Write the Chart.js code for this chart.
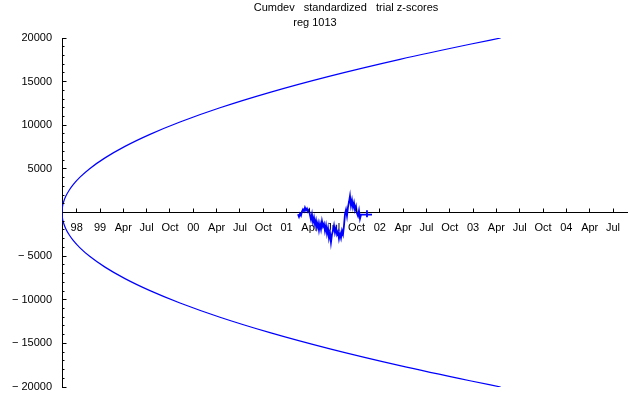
<!DOCTYPE html>
<html>
<head>
<meta charset="utf-8">
<script src="https://cdn.jsdelivr.net/npm/chart.js@4/dist/chart.umd.min.js"></script>
<style>
  body { margin: 0; background: #fff; }
</style>
</head>
<body>
<canvas id="myChart" width="640" height="395"></canvas>
<script>
// x is measured in quarters, 0 = the "98" tick
var xTickPos = [0,1,2,3,4,5,6,7,8,9,10,11,12,13,14,15,16,17,18,19,20,21,22,23]
var xTickLabels = ['98','99','Apr','Jul','Oct','00','Apr','Jul','Oct','01','Apr','Jul','Oct','02','Apr','Jul','Oct','03','Apr','Jul','Oct','04','Apr','Jul']
var yTickValues = [-20000,-15000,-10000,-5000,0,5000,10000,15000,20000]
var yTickLabels = ['\u2212 20000','\u2212 15000','\u2212 10000','\u2212 5000','','5000','10000','15000','20000']

// envelope
var envX = [-0.63,-0.609,-0.587,-0.545,-0.459,-0.33,-0.159,0.142,0.57,1.214,2.071,3.143,4.43,6.145,8.289,10.862,13.864,16.865,18.182]
var envUpper = [0,675,955,1350,1910,2526,3167,4051,5053,6261,7579,8957,10373,12003,13771,15632,17555,19287,20000]
var envLower = [0,-675,-955,-1350,-1910,-2526,-3167,-4051,-5053,-6261,-7579,-8957,-10373,-12003,-13771,-15632,-17555,-19287,-20000]

// cumdev trace
var traceX = [9.490,9.533,9.576,9.619,9.661,9.704,9.747,9.790,9.833,9.876,9.919,9.962,
  10.005,10.047,10.090,10.133,10.176,10.219,10.262,10.305,10.348,10.391,10.433,10.476,10.519,10.562,
  10.605,10.648,10.691,10.734,10.777,10.819,10.862,10.905,10.948,10.991,11.034,11.077,11.120,11.163,
  11.205,11.248,11.291,11.334,11.377,11.420,11.463,11.506,11.549,11.591,11.634,11.677,11.720,11.763,
  11.806,11.849,11.892,11.935,11.978,12.020,12.063,12.106,12.149,12.192,12.449,12.449,12.449,12.449,12.663]
var traceY = [-200,-500,-150,-350,100,350,150,550,250,450,100,300,
  -300,-800,-200,-1100,-600,-1400,-900,-1700,-1200,-2000,-1300,-1900,-1000,-1600,
  -1300,-2100,-1500,-2400,-1800,-2900,-2300,-3400,-2500,-2100,-1500,-2300,-1800,-2500,
  -2200,-3000,-2400,-2900,-2100,-2500,-1500,-200,300,-400,600,1200,1900,800,
  1400,600,1100,300,700,-100,-400,200,-700,-250,-250,250,-550,-250,-250]

function pts(xs, ys) {
	var out = []
	xs.forEach(function (v, i) { out.push({x: v, y: ys[i]}) })
	return out
}

var axisTicks = {
	id: 'axisTicks',
	afterDraw: function (chart) {
		var ctx = chart.ctx, xs = chart.scales.x, ys = chart.scales.y
		var y0 = Math.round(ys.getPixelForValue(0) - 0.5) + 0.5
		var x0 = Math.round(chart.chartArea.left - 0.5) + 0.5
		ctx.save()
		ctx.strokeStyle = '#000'
		ctx.lineWidth = 1
		ctx.beginPath()
		xs.ticks.forEach(function (t) {
			var px = Math.round(xs.getPixelForValue(t.value) - 0.5) + 0.5
			ctx.moveTo(px, y0)
			ctx.lineTo(px, y0 - 4)
		})
		for (var v = ys.min; v <= ys.max; v += 1000) {
			var py = Math.round(ys.getPixelForValue(v) - 0.5) + 0.5
			ctx.moveTo(x0, py)
			ctx.lineTo(x0 + (v % 5000 === 0 ? 4 : 2), py)
		}
		ctx.stroke()
		ctx.fillStyle = '#000'
		ctx.font = '11px "Liberation Sans", Arial, sans-serif'
		ctx.textAlign = 'center'
		ctx.textBaseline = 'middle'
		ctx.fillText('Cumdev   standardized   trial z-scores', 346, 8)
		ctx.fillText('reg 1013', 315, 23)
		ctx.restore()
	}
}

Chart.defaults.font.family = '"Liberation Sans", Arial, sans-serif'
Chart.defaults.font.size = 11
Chart.defaults.color = '#000'

var ctx = document.getElementById("myChart")
var myChart = new Chart(ctx, {
	type: 'scatter',
	data: {
		datasets: [{
			data: pts(envX, envUpper),
			showLine: true,
			borderColor: '#0000ff',
			borderWidth: 1.2,
			pointRadius: 0,
			cubicInterpolationMode: 'monotone'
		}, {
			data: pts(envX, envLower),
			showLine: true,
			borderColor: '#0000ff',
			borderWidth: 1.2,
			pointRadius: 0,
			cubicInterpolationMode: 'monotone'
		}, {
			data: pts(traceX, traceY),
			showLine: true,
			borderColor: '#0000ff',
			borderWidth: 1.8,
			pointRadius: 0,
			tension: 0
		}]
	},
	options: {
		responsive: false,
		animation: false,
		devicePixelRatio: 1,
		layout: { padding: { left: 0, top: 38, right: 13, bottom: 8 } },
		plugins: { legend: { display: false }, tooltip: { enabled: false } },
		scales: {
			x: {
				type: 'linear',
				min: -0.63,
				max: 23.6,
				position: { y: 0 },
				grid: { display: false, drawTicks: false },
				border: { display: true, color: '#000', width: 1 },
				afterBuildTicks: function (s) {
					s.ticks = xTickPos.map(function (v) { return {value: v} })
				},
				ticks: {
					autoSkip: false,
					maxRotation: 0,
					padding: 9,
					callback: function (v, i) { return xTickLabels[i] }
				}
			},
			y: {
				type: 'linear',
				min: -20000,
				max: 20000,
				position: 'left',
				grid: { display: false, drawTicks: false },
				border: { display: true, color: '#000', width: 1 },
				afterBuildTicks: function (s) {
					s.ticks = yTickValues.map(function (v) { return {value: v} })
				},
				afterFit: function (s) {
					s.width = 62
					s.paddingTop = 7
					s.paddingBottom = 7
				},
				ticks: {
					padding: 10,
					callback: function (v, i) { return yTickLabels[i] }
				}
			}
		}
	},
	plugins: [axisTicks]
})
</script>
</body>
</html>
